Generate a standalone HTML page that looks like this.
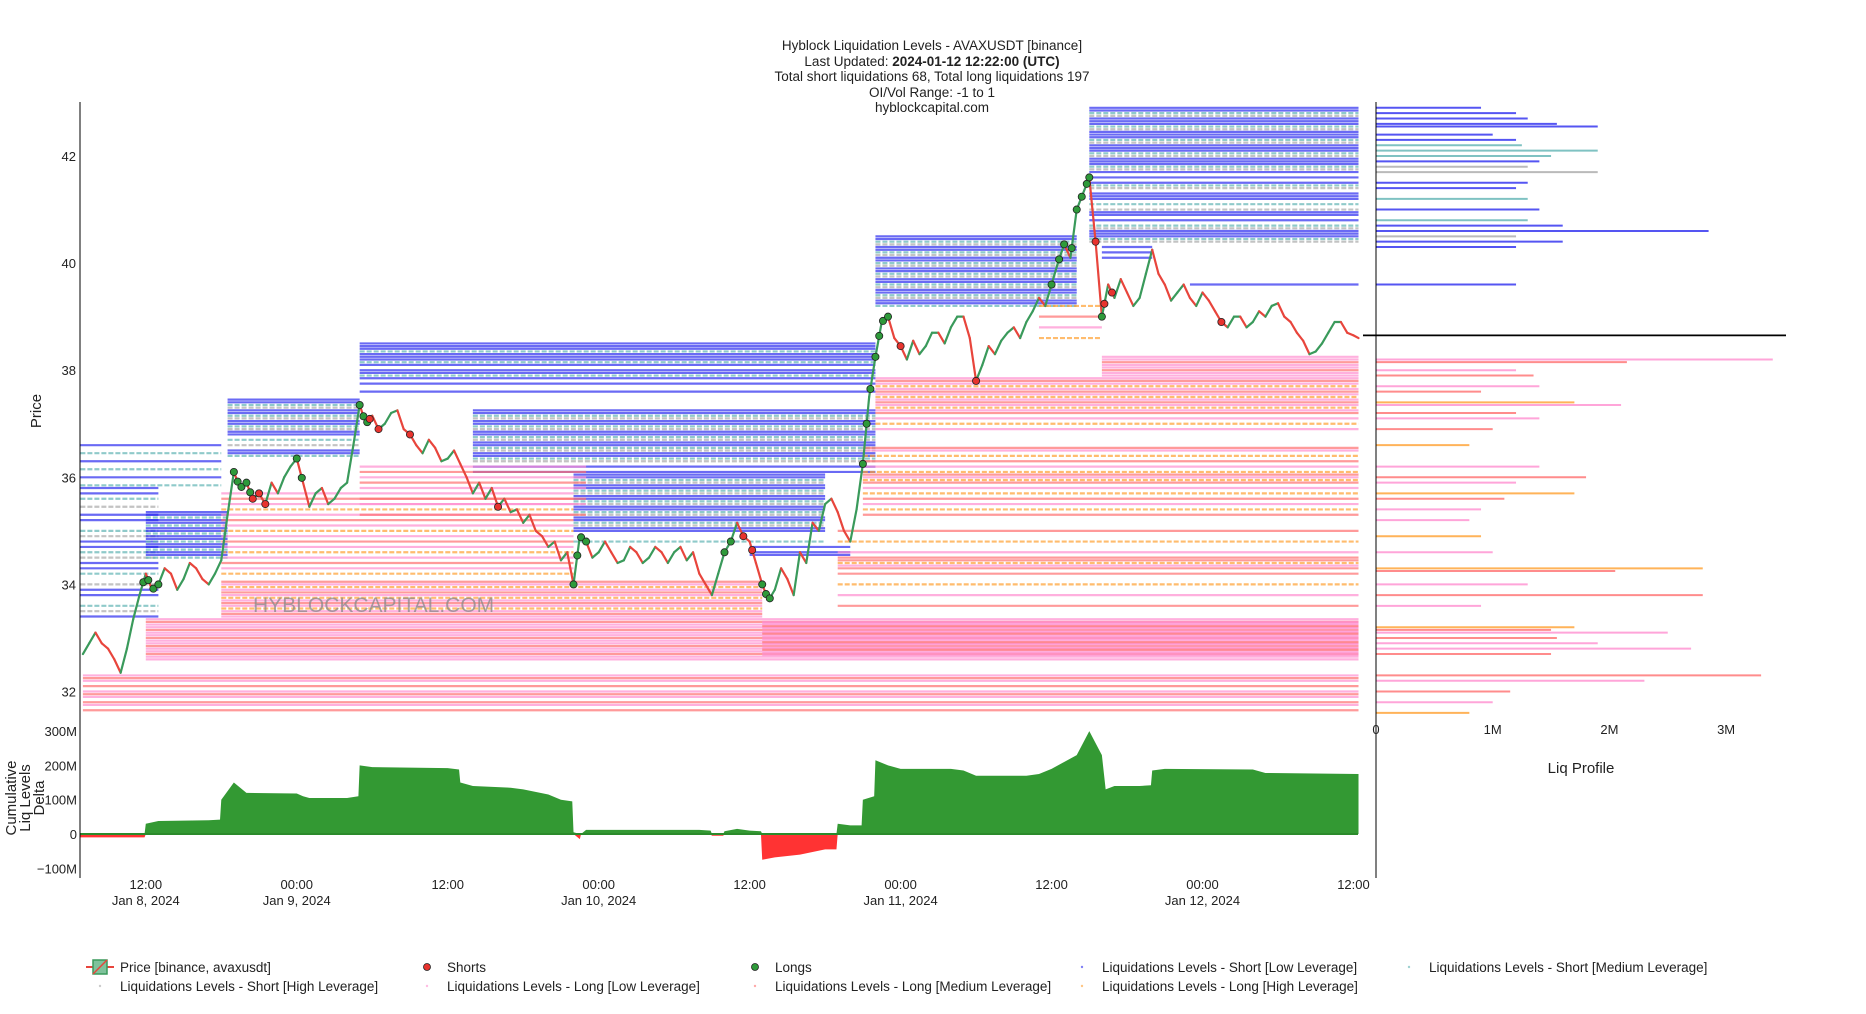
<!DOCTYPE html>
<html><head><meta charset="utf-8"><title>Hyblock Liquidation Levels - AVAXUSDT</title>
<style>
html,body{margin:0;padding:0;background:#fff;}
svg{display:block;font-family:"Liberation Sans",sans-serif;}
</style></head>
<body>
<svg id="chart" width="1866" height="1014" viewBox="0 0 1866 1014" xmlns="http://www.w3.org/2000/svg">
  <g font-size="13.5" text-anchor="middle" fill="#222">
    <text x="932" y="50">Hyblock Liquidation Levels - AVAXUSDT [binance]</text>
    <text x="932" y="66">Last Updated: <tspan font-weight="bold">2024-01-12 12:22:00 (UTC)</tspan></text>
    <text x="932" y="81">Total short liquidations 68, Total long liquidations 197</text>
    <text x="932" y="97">OI/Vol Range: -1 to 1</text>
    <text x="932" y="112">hyblockcapital.com</text>
  </g>
  <g id="levels"></g>
  <g id="profile"></g>
  <text x="253" y="612" font-size="21" fill="#888" fill-opacity="0.75">HYBLOCKCAPITAL.COM</text>
  <g id="price"></g>
  <g id="markers"></g>
  <g id="delta"></g>
  <g id="axes" font-size="13" fill="#222"></g>
  <g id="legend" font-size="13.5" fill="#222"></g>
</svg>
<script>
// ---- data ----
const priceHours = [7,7.5,8,8.5,9,9.5,10,10.5,11,11.5,12,12.5,13,13.5,14,14.5,15,15.5,16,16.5,17,17.5,18,18.5,19,19.5,20,20.5,21,21.5,22,22.5,23,23.5,24,24.5,25,25.5,26,26.5,27,27.5,28,28.5,29,29.5,30,30.5,31,31.5,32,32.5,33,33.5,34,34.5,35,35.5,36,36.5,37,37.5,38,38.5,39,39.5,40,40.5,41,41.5,42,42.5,43,43.5,44,44.5,45,45.5,46,46.5,47,47.5,48,48.5,49,49.5,50,50.5,51,51.5,52,52.5,53,53.5,54,54.5,55,55.5,56,56.5,57,57.5,58,58.5,59,59.5,60,60.5,61,61.5,62,62.5,63,63.5,64,64.5,65,65.5,66,66.5,67,67.5,68,68.5,69,69.5,70,70.5,71,71.5,72,72.5,73,73.5,74,74.5,75,75.5,76,76.5,77,77.5,78,78.5,79,79.5,80,80.5,81,81.5,82,82.5,83,83.5,84,84.5,85,85.5,86,86.5,87,87.5,88,88.5,89,89.5,90,90.5,91,91.5,92,92.5,93,93.5,94,94.5,95,95.5,96,96.5,97,97.5,98,98.5,99,99.5,100,100.5,101,101.5,102,102.5,103,103.5,104,104.5,105,105.5,106,106.5,107,107.5,108,108.4];
const priceValues = [32.7,32.9,33.1,32.9,32.8,32.6,32.35,32.8,33.35,33.8,34.2,33.9,34.0,34.3,34.2,33.9,34.1,34.4,34.3,34.1,34.0,34.2,34.45,35.3,36.1,35.8,35.9,35.6,35.7,35.5,35.9,35.7,36.0,36.2,36.35,35.9,35.45,35.7,35.8,35.5,35.6,35.8,35.9,36.6,37.35,37.0,37.15,36.9,37.0,37.2,37.25,36.9,36.8,36.6,36.45,36.7,36.55,36.3,36.35,36.5,36.25,36.0,35.7,35.9,35.6,35.8,35.45,35.6,35.35,35.4,35.15,35.3,35.0,34.9,34.7,34.8,34.45,34.6,34.0,34.9,34.8,34.5,34.6,34.8,34.6,34.4,34.45,34.7,34.6,34.4,34.5,34.7,34.6,34.4,34.6,34.7,34.45,34.6,34.2,34.0,33.8,34.2,34.6,34.8,35.15,34.9,34.8,34.4,34.0,33.7,33.9,34.3,34.1,33.8,34.6,34.4,35.15,35.0,35.5,35.6,35.35,35.0,34.8,35.4,36.25,37.5,38.25,38.9,39.0,38.6,38.45,38.2,38.55,38.3,38.45,38.7,38.7,38.5,38.8,39.0,39.0,38.6,37.8,38.1,38.45,38.3,38.55,38.7,38.8,38.6,38.9,39.1,39.35,39.2,39.6,40.0,40.35,40.1,41.0,41.3,41.6,40.4,39.0,39.6,39.35,39.7,39.45,39.2,39.35,39.8,40.25,39.8,39.6,39.3,39.45,39.6,39.35,39.2,39.45,39.3,39.1,38.9,38.8,39.0,39.0,38.8,38.9,39.1,39.0,39.2,39.25,39.0,38.9,38.7,38.55,38.3,38.35,38.5,38.7,38.9,38.9,38.7,38.65,38.6];
const longHours = [11.8,12.2,12.6,13,19,19.3,19.6,20,20.3,24,24.4,29,29.3,29.6,46,46.3,46.6,47,58,58.5,61,61.3,61.6,69,69.3,69.6,70,70.3,70.6,71,84,84.6,85,85.6,86,86.4,86.8,87,88];
const shortHours = [20.5,21,21.5,29.8,30.5,33,40,59.5,60.2,72,78,87.5,88.2,88.8,97.5];
const deltaHours = [6.8,11.9,12,13,17,17.9,18,19,20,24,24.5,25,28,28.9,29,30,36,36.9,37,38,41,42,44,45,45.9,46,46.5,46.6,47,56,56.9,57,57.9,58,59,60,60.9,61,62,64,66,66.9,67,68,68.9,69,69.9,70,71,72,76,77,78,82,83,84,85,86,87,88,88.3,89,91,91.9,92,93,100,101,108.4];
const deltaValues = [-10,-10,30,38,40,42,100,150,120,118,110,105,105,110,200,195,192,188,150,140,135,130,115,100,95,5,-15,0,12,12,10,-5,-5,8,15,10,8,-75,-68,-60,-45,-45,30,25,25,100,110,215,200,190,190,185,170,170,175,190,210,230,300,230,130,140,140,142,185,190,188,178,175];
const deltaTicks = [300,200,100,0,-100];
const deltaTickLabels = ["300M","200M","100M","0","−100M"];
const priceTicks = [32,34,36,38,40,42];
const timeTicks = [12,24,36,48,60,72,84,96,108];
const timeTickLabels = ["12:00","00:00","12:00","00:00","12:00","00:00","12:00","00:00","12:00"];
const timeTickDates = ["Jan 8, 2024","Jan 9, 2024","","Jan 10, 2024","","Jan 11, 2024","","Jan 12, 2024",""];
const profileTicks = [0,1,2,3];
const profileTickLabels = ["0","1M","2M","3M"];
const currentPrice = 38.65;
// level bands: start hour, end hour, type cycle, explicit price list
const bandStarts = [6.8,6.8,12,18.5,29,38,46,60,70,87,88,95, 7,12,61,18,18,29,67,69,70,88,83];
const bandEnds   = [18,13,18.5,29,70,70,66,68,86,108.4,92,108.4, 108.4,108.4,108.4,61,46,47,108.4,108.4,108.4,108.4,88];
const bandTypes  = ['sL sM','sL sL sM sH','sL sL sM','sL sL sM sH','sL sL sL sM','sL sL sM sH','sL sL sM sH','sL','sL sL sM sH','sL sL sM sH sL','sL','sL',
                    'lL lM','lL lM lL','lL lL lM','lM lL lH lL','lL lM lL lH','lL lM','lM lH lL lM','lM lL lH','lL lM lL lH','lL lL lM','lH lM lL'];
const bandPrices = [
 [36.6,36.45,36.3,36.15,36.0,35.85],
 [35.8,35.7,35.6,35.45,35.3,35.2,35.0,34.9,34.8,34.7,34.6,34.5,34.4,34.3,34.2,34.0,33.9,33.8,33.6,33.5,33.4],
 [35.35,35.3,35.25,35.2,35.15,35.1,35.05,35.0,34.95,34.9,34.85,34.8,34.75,34.7,34.65,34.6,34.55,34.5],
 [37.45,37.4,37.35,37.3,37.25,37.2,37.15,37.1,37.05,37.0,36.95,36.9,36.85,36.8,36.7,36.6,36.5,36.45,36.4],
 [38.5,38.45,38.4,38.35,38.3,38.25,38.2,38.15,38.1,38.0,37.95,37.9,37.85,37.75,37.6],
 [37.25,37.2,37.15,37.1,37.05,37.0,36.95,36.9,36.85,36.8,36.75,36.7,36.65,36.6,36.55,36.5,36.45,36.4,36.35,36.3,36.2,36.1],
 [36.05,36.0,35.95,35.9,35.85,35.8,35.75,35.7,35.65,35.6,35.55,35.5,35.45,35.4,35.35,35.3,35.25,35.2,35.15,35.1,35.05,35.0,34.8],
 [34.7,34.6,34.55],
 [40.5,40.45,40.4,40.35,40.3,40.25,40.2,40.15,40.1,40.05,40.0,39.95,39.9,39.85,39.8,39.75,39.7,39.65,39.6,39.55,39.5,39.45,39.4,39.35,39.3,39.25,39.2],
 [42.9,42.85,42.8,42.75,42.7,42.65,42.6,42.55,42.5,42.45,42.4,42.35,42.3,42.25,42.2,42.15,42.1,42.05,42.0,41.95,41.9,41.85,41.8,41.75,41.7,41.6,41.5,41.45,41.4,41.3,41.25,41.2,41.1,41.0,40.95,40.9,40.8,40.7,40.65,40.6,40.55,40.5,40.45,40.4],
 [40.3,40.2,40.1],
 [39.6],
 [32.3,32.25,32.2,32.1,32.0,31.95,31.9,31.8,31.75,31.65],
 [33.35,33.3,33.25,33.2,33.15,33.1,33.05,33.0,32.95,32.9,32.85,32.8,32.75,32.7,32.65,32.6],
 [33.3,33.27,33.22,33.18,33.12,33.08,33.02,32.98,32.92,32.88,32.82,32.78,32.72,32.68],
 [34.05,34.0,33.95,33.9,33.85,33.8,33.75,33.7,33.65,33.6,33.55,33.5,33.45,33.4],
 [35.7,35.6,35.5,35.4,35.3,35.2,35.1,35.0,34.9,34.8,34.7,34.6,34.5,34.4,34.3,34.2],
 [36.2,36.1,36.0,35.9,35.8,35.6,35.5,35.3],
 [35.0,34.8,34.6,34.5,34.45,34.4,34.35,34.3,34.2,34.0,33.8,33.6],
 [36.55,36.5,36.4,36.3,36.2,36.1,36.05,36.0,35.95,35.9,35.8,35.7,35.6,35.5,35.4,35.3],
 [37.85,37.8,37.75,37.7,37.65,37.6,37.55,37.5,37.45,37.4,37.35,37.3,37.25,37.2,37.1,37.0,36.9],
 [38.25,38.2,38.15,38.1,38.05,38.0,37.95,37.9],
 [39.2,39.0,38.8,38.6]
];
// profile: [price, sizeM, type]
const profile = [
[42.9,0.9,'sL'],[42.8,1.2,'sL'],[42.7,1.3,'sL'],[42.6,1.55,'sL'],[42.55,1.9,'sL'],[42.4,1.0,'sL'],[42.3,1.2,'sL'],[42.2,1.25,'sM'],[42.1,1.9,'sM'],[42.0,1.5,'sM'],[41.9,1.4,'sL'],[41.8,1.3,'sH'],[41.7,1.9,'sH'],[41.5,1.3,'sL'],[41.4,1.2,'sL'],[41.2,1.3,'sM'],[41.0,1.4,'sL'],[40.8,1.3,'sM'],[40.7,1.6,'sL'],[40.6,2.85,'sL'],[40.5,1.2,'sH'],[40.4,1.6,'sL'],[40.3,1.2,'sL'],[39.6,1.2,'sL'],
[38.2,3.4,'lL'],[38.15,2.15,'lM'],[38.0,1.2,'lL'],[37.9,1.35,'lM'],[37.7,1.4,'lL'],[37.6,0.9,'lM'],[37.4,1.7,'lH'],[37.35,2.1,'lL'],[37.2,1.2,'lM'],[37.1,1.4,'lL'],[36.9,1.0,'lM'],[36.6,0.8,'lH'],[36.2,1.4,'lL'],[36.0,1.8,'lM'],[35.9,1.2,'lL'],[35.7,1.7,'lH'],[35.6,1.1,'lM'],[35.4,0.9,'lL'],[35.2,0.8,'lL'],[34.9,0.9,'lH'],[34.6,1.0,'lL'],[34.3,2.8,'lH'],[34.25,2.05,'lM'],[34.0,1.3,'lL'],[33.8,2.8,'lM'],[33.6,0.9,'lL'],[33.2,1.7,'lH'],[33.15,1.5,'lM'],[33.1,2.5,'lL'],[33.0,1.55,'lM'],[32.9,1.9,'lL'],[32.8,2.7,'lL'],[32.7,1.5,'lM'],[32.3,3.3,'lM'],[32.2,2.3,'lL'],[32.0,1.15,'lM'],[31.8,1.0,'lL'],[31.6,0.8,'lH']
];
// ---- scales ----
const X = h => 145.8 + (h - 12) * 12.58;
const Y = p => 156 + (42 - p) * 53.55;
const DY = v => 834 - v * 0.343;
const PX = m => 1376 + m * 116.7;
const colors = {sL:'#2b2bef',sM:'#5fb3b3',sH:'#a9a9a9',lL:'#ff8fd0',lM:'#ff6f6f',lH:'#ffa030'};
const NS = 'http://www.w3.org/2000/svg';
function mk(tag, parent, attrs){const e=document.createElementNS(NS,tag);for(const k in attrs)e.setAttribute(k,attrs[k]);parent.appendChild(e);return e;}
function priceAt(h){for(let i=0;i<priceHours.length-1;i++){if(h>=priceHours[i]&&h<=priceHours[i+1]){const t=(h-priceHours[i])/(priceHours[i+1]-priceHours[i]);return priceValues[i]+t*(priceValues[i+1]-priceValues[i]);}}return priceValues[priceValues.length-1];}

const gL = document.getElementById('levels');
bandPrices.forEach((list,b)=>{
  const types = bandTypes[b].split(' ');
  list.forEach((p,i)=>{
    const t = types[i % types.length];
    const ln = mk('line', gL, {x1:X(bandStarts[b]),x2:X(bandEnds[b]),y1:Y(p),y2:Y(p),stroke:colors[t],'stroke-width':2.2,'stroke-opacity':0.7});
    if(t==='sM'||t==='sH'||t==='lH') ln.setAttribute('stroke-dasharray','5,2');
    
    
  });
});
const gP = document.getElementById('profile');
profile.forEach(p=>{
  const ln = mk('line', gP, {x1:PX(0),x2:PX(p[1]),y1:Y(p[0]),y2:Y(p[0]),stroke:colors[p[2]],'stroke-width':2,'stroke-opacity':0.8});
  
  
});
const cp = mk('line', gP, {x1:1363,x2:1786,y1:Y(currentPrice),y2:Y(currentPrice),stroke:'#000','stroke-width':1.8});



const gPr = document.getElementById('price');
for(let i=0;i<priceHours.length-1;i++){
  const up = priceValues[i+1]>=priceValues[i];
  const s = mk('line', gPr, {x1:X(priceHours[i]),y1:Y(priceValues[i]),x2:X(priceHours[i+1]),y2:Y(priceValues[i+1]),stroke:up?'#3a9a5b':'#e8453c','stroke-width':2.2,'stroke-linecap':'round'});
  
  
}
const gM = document.getElementById('markers');
longHours.forEach(h=>{
  const c = mk('circle', gM, {cx:X(h),cy:Y(priceAt(h)),r:3.6,fill:'#2e9a3a',stroke:'#222','stroke-width':0.8});
  
  
});
shortHours.forEach(h=>{
  const c = mk('circle', gM, {cx:X(h),cy:Y(priceAt(h)),r:3.6,fill:'#e8332e',stroke:'#222','stroke-width':0.8});
  
  
});

// delta area (linear between points, split pos/neg)
const gD = document.getElementById('delta');
function area(sign,color){
  let d = 'M'+X(deltaHours[0])+','+DY(0);
  for(let i=0;i<deltaHours.length;i++){
    const v = sign>0?Math.max(0,deltaValues[i]):Math.min(0,deltaValues[i]);
    d += ' L'+X(deltaHours[i])+','+DY(v);
  }
  d += ' L'+X(deltaHours[deltaHours.length-1])+','+DY(0)+' Z';
  return mk('path', gD, {d:d,fill:color});
}
const ap = area(1,'#339933');


const an = area(-1,'#ff3333');


const zl = mk('line', gD, {x1:80,x2:1358,y1:DY(0),y2:DY(0),stroke:'#2b8a2b','stroke-width':2});



// axes
const gA = document.getElementById('axes');
const a1 = mk('line', gA, {x1:80,x2:80,y1:102,y2:878,stroke:'#000','stroke-width':1});


const a2 = mk('line', gA, {x1:1376,x2:1376,y1:102,y2:878,stroke:'#000','stroke-width':1});


priceTicks.forEach(p=>{
  const t = mk('text', gA, {x:76,y:Y(p)+5,'text-anchor':'end'}); t.textContent=p;
  
  
});
deltaTicks.forEach((v,i)=>{
  const t = mk('text', gA, {x:77,y:DY(v)+5,'text-anchor':'end'}); t.textContent=deltaTickLabels[i];
  
  
});
timeTicks.forEach((h,i)=>{
  const t = mk('text', gA, {x:X(h),y:889,'text-anchor':'middle'}); t.textContent=timeTickLabels[i];
  
  
  if(timeTickDates[i]){
    const d = mk('text', gA, {x:X(h),y:905,'text-anchor':'middle'}); d.textContent=timeTickDates[i];
    
    
  }
});
profileTicks.forEach((m,i)=>{
  const t = mk('text', gA, {x:PX(m),y:734,'text-anchor':'middle'}); t.textContent=profileTickLabels[i];
  
  
});
const pt = mk('text', gA, {x:1581,y:773,'text-anchor':'middle','font-size':15}); pt.textContent='Liq Profile';


const yt = mk('text', gA, {x:0,y:0,'text-anchor':'middle','font-size':15,transform:'translate(41,411) rotate(-90)'}); yt.textContent='Price';


['Cumulative','Liq Levels','Delta'].forEach((s,i)=>{
  const t = mk('text', gA, {x:0,y:0,'text-anchor':'middle','font-size':15,transform:'translate('+(16+i*14)+',798) rotate(-90)'}); t.textContent=s;
  
  
});

// legend
const gLg = document.getElementById('legend');
const legendItems = [
 ['Price [binance, avaxusdt]',120,972,'price'],['Shorts',447,972,'short'],['Longs',775,972,'long'],['Liquidations Levels - Short [Low Leverage]',1102,972,'sL'],['Liquidations Levels - Short [Medium Leverage]',1429,972,'sM'],
 ['Liquidations Levels - Short [High Leverage]',120,991,'sH'],['Liquidations Levels - Long [Low Leverage]',447,991,'lL'],['Liquidations Levels - Long [Medium Leverage]',775,991,'lM'],['Liquidations Levels - Long [High Leverage]',1102,991,'lH']
];
legendItems.forEach(it=>{
  const g = mk('g', gLg, {});
  
  
  if(it[3]==='price'){
    mk('line', g, {x1:86,x2:114,y1:it[2]-5,y2:it[2]-5,stroke:'#e8453c','stroke-width':2});
    mk('rect', g, {x:93,y:it[2]-12,width:14,height:14,fill:'#7fc29b',stroke:'#3a9a5b','stroke-width':1.5});
    mk('line', g, {x1:93,x2:107,y1:it[2]+2,y2:it[2]-12,stroke:'#e8453c','stroke-width':1.5});
  } else if(it[3]==='short' || it[3]==='long'){
    mk('circle', g, {cx:it[1]-20,cy:it[2]-5,r:3.5,fill:it[3]==='short'?'#e8332e':'#2e9a3a',stroke:'#222','stroke-width':0.8});
  } else {
    mk('circle', g, {cx:it[1]-20,cy:it[2]-5,r:1.2,fill:colors[it[3]],'fill-opacity':0.6});
  }
  const t = mk('text', g, {x:it[1],y:it[2]}); t.textContent=it[0];
});
</script>
</body></html>
